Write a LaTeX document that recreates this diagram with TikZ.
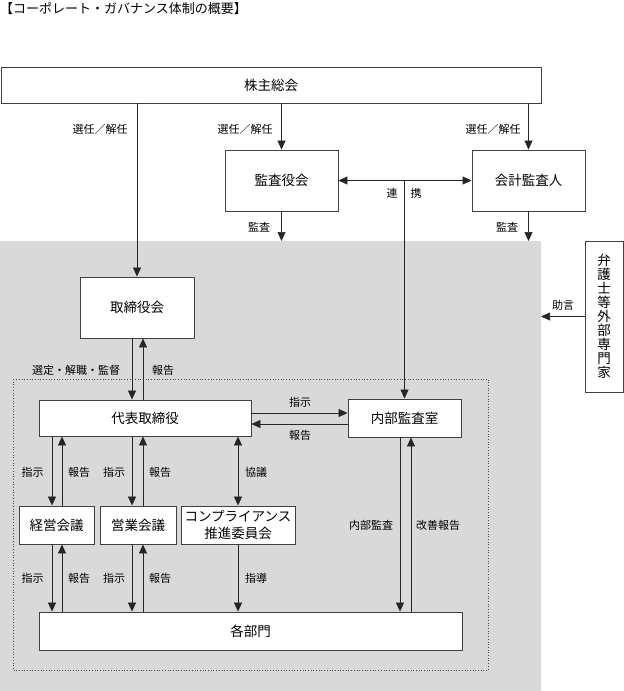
\documentclass[tikz,border=0pt]{standalone}
\usepackage{fontspec}
\setmainfont{Noto Sans CJK JP}
\usetikzlibrary{arrows.meta}

\begin{document}
\begin{tikzpicture}[x=1pt,y=-1pt]

	\tikzstyle{box}=[draw=black!75,line width=0.9pt,fill=white,
		inner sep=0pt,align=center,
		font=\fontsize{13.5}{17}\selectfont]
	\tikzstyle{lbl}=[inner sep=1pt,font=\fontsize{11}{13}\selectfont]
	\tikzstyle{arr}=[draw=black!85,line width=0.7pt,
		-{Triangle[length=9pt,width=8pt]}]
	\tikzstyle{darr}=[arr,
		{Triangle[length=9pt,width=8pt]}-{Triangle[length=9pt,width=8pt]}]

	\useasboundingbox (0,0) rectangle (624,691);

	% shaded area and dotted frame
	\fill[gray!30] (0,241) rectangle (541,691);
	\draw[dotted,line width=0.7pt,black!70] (13,379) rectangle (488,670);
	\coordinate (graytop)   at (0,241);
	\coordinate (grayright) at (541,0);

	\node[anchor=west,inner sep=0pt,font=\fontsize{13}{15}\selectfont]
		(title) at (0,9) {【コーポレート・ガバナンス体制の概要】};

	% boxes
	\node[box,minimum width=540,minimum height=36]	(meeting)	at (271,85)	{株主総会};
	\node[box,minimum width=113,minimum height=61]	(kansa)		at (281.5,180.5)	{監査役会};
	\node[box,minimum width=113,minimum height=61]	(kaikei)	at (528.5,180.5)	{会計監査人};
	\node[box,minimum width=114,minimum height=61]	(board)		at (137,307.5)	{取締役会};
	\node[box,minimum width=212,minimum height=36]	(ceo)		at (145,418)	{代表取締役};
	\node[box,minimum width=113,minimum height=38]	(office)	at (404.5,418)	{内部監査室};
	\node[box,minimum width=75,minimum height=38]	(keiei)		at (56.5,525)	{経営会議};
	\node[box,minimum width=76,minimum height=38]	(eigyo)		at (138,525)	{営業会議};
	\node[box,minimum width=114,minimum height=38]	(comp)		at (238,525)	{コンプライアンス\\推進委員会};
	\node[box,minimum width=423,minimum height=38]	(depts)		at (250.5,631)	{各部門};
	\node[box,minimum width=38,minimum height=151,font=\fontsize{13.5}{14}\selectfont]
		(expert) at (604,316.5) {弁\\護\\士\\等\\外\\部\\専\\門\\家};

	% from the shareholders
	\draw[arr] (meeting.south -| board.north) -- (board.north);
	\draw[arr] (meeting.south -| kansa.north) -- (kansa.north);
	\draw[arr] (meeting.south -| kaikei.north) -- (kaikei.north);
	\node[lbl] (sen1) at (100,129) {選任／解任};
	\node[lbl] (sen2) at (245,129) {選任／解任};
	\node[lbl] (sen3) at (493,129) {選任／解任};

	% auditors
	\draw[darr] (kansa.east) -- (kaikei.west);
	\draw[arr] (office.north |- kansa.east) -- (office.north);
	\node[lbl] (ren) at (392,193) {連};
	\node[lbl] (kei) at (416,193) {携};
	\draw[arr] (kansa.south) -- (kansa.south |- graytop);
	\draw[arr] (kaikei.south) -- (kaikei.south |- graytop);
	\node[lbl] (aud1) at (259,227) {監査};
	\node[lbl] (aud2) at (507,227) {監査};

	% outside experts
	\draw[arr] (expert.west) -- (expert.west -| grayright);
	\node[lbl] (advice) at (563,305) {助言};

	% board and CEO
	\draw[arr] ([xshift=-5pt]board.south) -- ([xshift=-5pt]board.south |- ceo.north);
	\draw[arr] ([xshift=6pt]board.south |- ceo.north) -- ([xshift=6pt]board.south);
	\node[lbl] (sup) at (76,370) {選定・解職・監督};
	\node[lbl] (rep0) at (163,370) {報告};

	% CEO and internal audit
	\draw[arr] ([yshift=5pt]ceo.east) -- ([yshift=5pt]office.west);
	\draw[arr] ([yshift=-6pt]office.west) -- ([yshift=-6pt]ceo.east);
	\node[lbl] (ins0) at (300,402) {指示};
	\node[lbl] (rep1) at (300,435) {報告};

	% CEO and meetings
	\draw[arr] ([xshift=-4.5pt]keiei.north |- ceo.south) -- ([xshift=-4.5pt]keiei.north);
	\draw[arr] ([xshift=5.5pt]keiei.north) -- ([xshift=5.5pt]keiei.north |- ceo.south);
	\draw[arr] ([xshift=-6pt]eigyo.north |- ceo.south) -- ([xshift=-6pt]eigyo.north);
	\draw[arr] ([xshift=5pt]eigyo.north) -- ([xshift=5pt]eigyo.north |- ceo.south);
	\draw[darr] (comp.north |- ceo.south) -- (comp.north);
	\node[lbl] (ins1) at (32.5,472) {指示};
	\node[lbl] (rep2) at (79,472) {報告};
	\node[lbl] (ins2) at (114,472) {指示};
	\node[lbl] (rep3) at (160,472) {報告};
	\node[lbl] (disc) at (256,472) {協議};

	% meetings and departments
	\draw[arr] ([xshift=-4.5pt]keiei.south) -- ([xshift=-4.5pt]keiei.south |- depts.north);
	\draw[arr] ([xshift=5.5pt]keiei.south |- depts.north) -- ([xshift=5.5pt]keiei.south);
	\draw[arr] ([xshift=-6pt]eigyo.south) -- ([xshift=-6pt]eigyo.south |- depts.north);
	\draw[arr] ([xshift=5pt]eigyo.south |- depts.north) -- ([xshift=5pt]eigyo.south);
	\draw[arr] (comp.south) -- (comp.south |- depts.north);
	\node[lbl] (ins3) at (32.5,578) {指示};
	\node[lbl] (rep4) at (79,578) {報告};
	\node[lbl] (ins4) at (114,578) {指示};
	\node[lbl] (rep5) at (160,578) {報告};
	\node[lbl] (guide) at (256,578) {指導};

	% internal audit and departments
	\draw[arr] ([xshift=-4.5pt]office.south) -- ([xshift=-4.5pt]office.south |- depts.north);
	\draw[arr] ([xshift=6.5pt]office.south |- depts.north) -- ([xshift=6.5pt]office.south);
	\node[lbl] (inaud) at (371,525) {内部監査};
	\node[lbl] (impr) at (438,525) {改善報告};

\end{tikzpicture}
\end{document}
